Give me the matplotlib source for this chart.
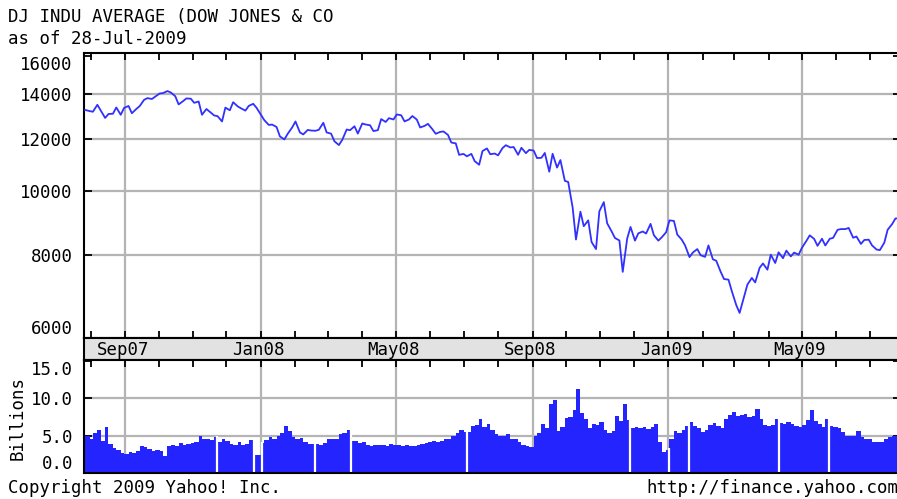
import numpy as np
import pandas as pd
import matplotlib
matplotlib.use('Agg')
import matplotlib.pyplot as plt
import matplotlib.dates as mdates
from matplotlib.ticker import NullLocator

plt.rcParams['font.family'] = 'DejaVu Sans Mono'
plt.rcParams['font.size'] = 12.5

# sample days: each Friday and the Tuesday after it
fridays = pd.date_range('2007-07-27', '2009-07-24', freq='W-FRI')
tuesdays = pd.date_range('2007-07-31', '2009-07-28', freq='W-TUE')
dates = pd.DatetimeIndex(np.sort(np.concatenate([fridays.values, tuesdays.values])))

# DJIA close, (Fri, Tue) pairs
price_close = [
    13265, 13212, 13182, 13504, 13240, 12900, 13079, 13091, 13379, 13042,
    13358, 13449, 13113, 13309, 13442, 13739, 13821, 13779, 13896, 14047,
    14066, 14165, 14093, 13913, 13522, 13676, 13807, 13792, 13596, 13661,
    13043, 13307, 13177, 13011, 12981, 12743, 13372, 13249, 13626, 13433,
    13340, 13233, 13451, 13550, 13366, 13044, 12800, 12590, 12606, 12501,
    12099, 11971, 12207, 12480, 12743, 12265, 12182, 12373, 12348, 12337,
    12381, 12684, 12266, 12213, 11894, 11740, 11951, 12392, 12361, 12532,
    12216, 12654, 12609, 12577, 12325, 12363, 12849, 12721, 12891, 12832,
    13058, 13020, 12745, 12832, 12986, 12828, 12480, 12549, 12638, 12402,
    12209, 12289, 12307, 12160, 11843, 11808, 11346, 11383, 11288, 11385,
    11100, 10962, 11496, 11603, 11370, 11398, 11326, 11616, 11734, 11642,
    11659, 11348, 11628, 11413, 11544, 11516, 11220, 11231, 11421, 10700,
    11388, 10854, 11143, 10365, 10325, 9447, 8451, 9311, 8852, 9034,
    8379, 8175, 9325, 9625, 8944, 8694, 8497, 8424, 7552, 8479,
    8829, 8419, 8635, 8691, 8629, 8924, 8579, 8419, 8515, 8668,
    9034, 9015, 8599, 8448, 8281, 7950, 8077, 8175, 8001, 7957,
    8280, 7889, 7850, 7553, 7366, 7350, 7063, 6727, 6547, 6926,
    7224, 7395, 7279, 7660, 7776, 7609, 8018, 7789, 8083, 7920,
    8131, 7969, 8076, 8016, 8212, 8411, 8575, 8469, 8268, 8475,
    8278, 8473, 8500, 8740, 8764, 8763, 8799, 8504, 8540, 8322,
    8438, 8447, 8280, 8163, 8146, 8359, 8743, 8916, 9093, 9096,
]

# volume in billions, same days
volume_bn = [
    5.0, 4.6, 5.3, 5.8, 4.3, 6.2, 3.9, 3.3, 3.1, 2.7,
    2.5, 2.8, 2.7, 2.9, 3.6, 3.5, 3.2, 3.0, 3.1, 2.9,
    2.3, 3.6, 3.7, 3.6, 4.0, 3.7, 3.9, 4.0, 4.1, 4.9,
    4.6, 4.5, 4.4, 4.8, 4.1, 4.5, 4.3, 3.9, 3.8, 4.2,
    3.8, 3.9, 4.4, 2.4, 2.4, 4.0, 4.4, 4.8, 4.6, 5.0,
    5.4, 6.3, 5.6, 4.8, 4.6, 4.7, 4.1, 3.9, 3.9, 3.9,
    3.8, 4.0, 4.5, 4.6, 4.5, 5.2, 5.4, 5.8, 4.3, 4.3,
    4.0, 4.1, 3.7, 3.6, 3.8, 3.7, 3.7, 3.6, 3.9, 3.8,
    3.8, 3.6, 3.7, 3.6, 3.6, 3.7, 3.9, 4.0, 4.1, 4.3,
    4.2, 4.3, 4.5, 4.6, 5.0, 5.3, 5.8, 5.5, 5.5, 6.3,
    6.4, 7.2, 6.2, 6.5, 5.8, 5.2, 5.0, 5.0, 5.2, 4.6,
    4.6, 4.1, 3.7, 3.6, 3.5, 5.0, 5.3, 6.5, 6.0, 9.2,
    9.8, 5.6, 6.2, 7.3, 7.5, 8.5, 11.3, 8.0, 7.2, 6.0,
    6.5, 6.4, 6.8, 5.8, 5.3, 5.6, 7.6, 7.0, 9.2, 7.1,
    6.0, 6.2, 6.0, 6.1, 5.9, 6.2, 6.6, 4.2, 2.8, 3.1,
    4.6, 5.6, 5.4, 5.8, 6.3, 6.8, 6.3, 6.0, 5.5, 5.8,
    6.4, 6.7, 6.3, 6.0, 7.2, 7.8, 8.2, 7.6, 7.7, 7.9,
    7.5, 7.6, 8.6, 7.2, 6.4, 6.3, 6.4, 7.2, 6.7, 6.5,
    6.8, 6.6, 6.3, 6.2, 6.4, 7.1, 8.5, 6.9, 6.5, 6.2,
    7.2, 6.3, 6.2, 6.0, 5.5, 5.0, 4.9, 5.0, 5.6, 4.8,
    4.6, 4.5, 4.2, 4.2, 4.1, 4.6, 4.8, 5.0, 4.9, 5.1,
]

# market holidays showing as gaps in the volume bars
holiday_gaps = ['2007-11-22', '2007-12-25', '2008-01-01', '2008-02-18',
                '2008-03-21', '2008-07-04', '2008-11-27', '2009-01-01',
                '2009-01-19', '2009-04-10', '2009-05-25']

price_ticks = [6000, 8000, 10000, 12000, 14000, 16000]
price_grid = [8000, 10000, 12000, 14000]
volume_ticks = [0, 5, 10, 15]
month_labels = pd.date_range('2007-09-01', '2009-05-01', freq='4MS')

W, H = 897, 499
fig = plt.figure(figsize=(W / 100, H / 100), dpi=100)
left, right = 84, 901
x0, x1 = pd.Timestamp('2007-07-26'), pd.Timestamp('2009-07-29')


def box(top, bottom):
    return [left / W, 1 - bottom / H, (right - left) / W, (bottom - top) / H]


ax_p = fig.add_axes(box(53, 338))
ax_b = fig.add_axes(box(338, 360))
ax_v = fig.add_axes(box(360, 473))

grid_kw = dict(color='#b4b4b4', lw=1.6)

for ax in (ax_p, ax_b, ax_v):
    ax.set_xlim(x0, x1)
    for s in ax.spines.values():
        s.set_linewidth(1.5)
        s.set_color('black')
    ax.xaxis.set_major_locator(mdates.MonthLocator(bymonth=[1, 5, 9]))
    ax.xaxis.set_minor_locator(mdates.MonthLocator())

# price panel
ax_p.plot(dates, price_close, color='#3030ff', lw=1.3, zorder=3)
ax_p.set_yscale('log')
ax_p.set_ylim(6000, 16170)
ax_p.yaxis.set_minor_locator(NullLocator())
ax_p.set_yticks(price_ticks)
ax_p.set_yticklabels([str(v) for v in price_ticks])
for v in price_grid:
    ax_p.axhline(v, zorder=1, **grid_kw)
ax_p.grid(axis='x', which='major', zorder=1, **grid_kw)
ax_p.tick_params(axis='x', which='both', direction='in', top=True, bottom=True,
                 labelbottom=False, length=5, width=1.3)
ax_p.tick_params(axis='y', which='major', direction='in', left=True, right=True,
                 length=6, width=1.3, pad=8)
lbls = ax_p.get_yticklabels()
lbls[0].set_va('bottom')
lbls[-1].set_va('top')

# month band
ax_b.set_facecolor('#e2e2e2')
ax_b.set_yticks([])
ax_b.tick_params(axis='x', which='both', length=0, labelbottom=False)
for d in month_labels:
    ax_b.text(d - pd.Timedelta(days=2), 0.45, d.strftime('%b%y'),
              transform=ax_b.get_xaxis_transform(), ha='center', va='center')

# volume panel
num = mdates.date2num(dates)
widths = np.append(np.diff(num), 1)
ax_v.bar(dates, volume_bn, width=widths, align='edge', color='#2424ff',
         linewidth=0, zorder=2)
for d in holiday_gaps:
    d = pd.Timestamp(d)
    i = dates.searchsorted(d, side='right') - 1
    top = max(volume_bn[i], volume_bn[max(i - 1, 0)]) + 0.2
    ax_v.vlines(d + pd.Timedelta(hours=12), 0, top, color='white',
                lw=1.6, zorder=2.5)
ax_v.set_ylim(0, 15.13)
ax_v.set_yticks(volume_ticks)
ax_v.set_yticklabels([f'{v:.1f}' for v in volume_ticks])
for v in (5, 10):
    ax_v.axhline(v, zorder=1, **grid_kw)
ax_v.grid(axis='x', which='major', zorder=1, **grid_kw)
ax_v.tick_params(axis='x', which='both', direction='in', top=True, bottom=True,
                 labelbottom=False, length=5, width=1.3)
ax_v.tick_params(axis='y', direction='in', left=True, right=True,
                 length=6, width=1.3, pad=8)
vl = ax_v.get_yticklabels()
vl[0].set_va('bottom')
vl[-1].set_va('top')

# texts
fig.text(8 / W, 1 - 17 / H, 'DJ INDU AVERAGE (DOW JONES & CO', ha='left', va='center')
fig.text(8 / W, 1 - 39 / H, 'as of 28-Jul-2009', ha='left', va='center')
fig.text(18 / W, 1 - 418 / H, 'Billions', rotation=90, ha='center', va='center')
fig.text(8 / W, 1 - 488 / H, 'Copyright 2009 Yahoo! Inc.', ha='left', va='center')
fig.text(646 / W, 1 - 488 / H, 'http://finance.yahoo.com', ha='left', va='center')

fig.savefig('out.png', dpi=100)
